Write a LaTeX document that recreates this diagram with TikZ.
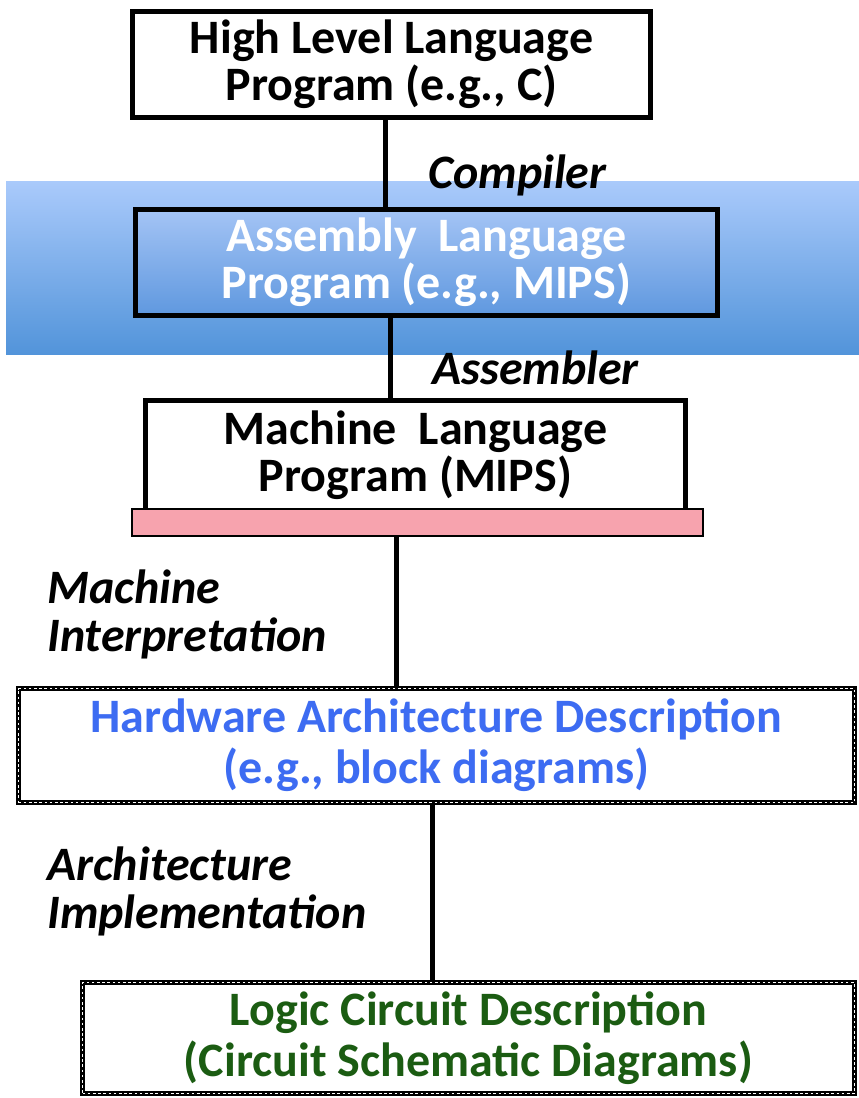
\documentclass[tikz,border=0pt]{standalone}
\usepackage{fontspec}
\setmainfont{Carlito}
\usepackage{tikz}
\usetikzlibrary{positioning, calc}
\definecolor{bandtop}{HTML}{AACAFB}
\definecolor{bandbot}{HTML}{5294DA}
\definecolor{asmtop}{HTML}{A4C4F5}
\definecolor{asmbot}{HTML}{5F98DF}
\definecolor{barpink}{HTML}{F7A3AE}
\definecolor{hwblue}{HTML}{3D6CF2}
\definecolor{logicgreen}{HTML}{1B5C12}

\begin{document}
\begin{tikzpicture}[
    x=1pt, y=-1pt,
    box/.style={rectangle, draw, line width=5pt, fill=white, align=center, inner sep=0pt, font=\bfseries\fontsize{48}{47}\selectfont},
    dotbox/.style={box, font=\bfseries\fontsize{48}{51}\selectfont, postaction={draw=white, line width=1.6pt, dash pattern=on 2.6pt off 2.6pt}},
    link/.style={draw, line width=5pt},
    steplabel/.style={inner sep=0pt, align=left, font=\bfseries\itshape\fontsize{48}{48}\selectfont}
]
    \useasboundingbox (0,0) rectangle (859,1098);

    % blue band behind the assembly level
    \shade [top color=bandtop, bottom color=bandbot] (6,181) rectangle (859,354);

    \node [box, minimum width=518pt, minimum height=106pt] (hll) at (391.5,64) {High Level Language\\Program (e.g., C)};
    \node [box, top color=asmtop, bottom color=asmbot, text=white, minimum width=582pt, minimum height=106pt] (asm) at (426.5,262.5) {Assembly~ Language\\Program (e.g., MIPS)};
    \node [box, minimum width=540pt, minimum height=110pt] (mach) at (415.5,455) {Machine~ Language\\Program (MIPS)};
    \node [rectangle, draw, line width=2pt, fill=barpink, minimum width=571pt, minimum height=27pt, inner sep=0pt] (bar) at (417.5,522.5) {};
    \node [dotbox, text=hwblue, minimum width=836pt, minimum height=114pt] (hw) at (436.5,745.5) {Hardware Architecture Description\\(e.g., block diagrams)};
    \node [dotbox, text=logicgreen, minimum width=772pt, minimum height=111pt] (logic) at (468.5,1038) {Logic Circuit Description\\(Circuit Schematic Diagrams)};

    \draw [link] ([xshift=-6.5pt]hll.south) -- ([xshift=-6.5pt]hll.south |- asm.north);
    \draw [link] ([xshift=-36.5pt]asm.south) -- ([xshift=-36.5pt]asm.south |- mach.north);
    \draw [link] ([xshift=-21.5pt]bar.south) -- ([xshift=-21.5pt]bar.south |- hw.north);
    \draw [link] ([xshift=-4.5pt]hw.south) -- ([xshift=-4.5pt]hw.south |- logic.north);

    \node [steplabel, anchor=west] (compiler) at (428,175) {Compiler};
    \node [steplabel, anchor=west] (assembler) at (432,368) {Assembler};
    \node [steplabel, anchor=west] (interp) at (47,614) {Machine\\Interpretation};
    \node [steplabel, anchor=west] (implem) at (47,891) {Architecture\\Implementation};

\end{tikzpicture}
\end{document}
